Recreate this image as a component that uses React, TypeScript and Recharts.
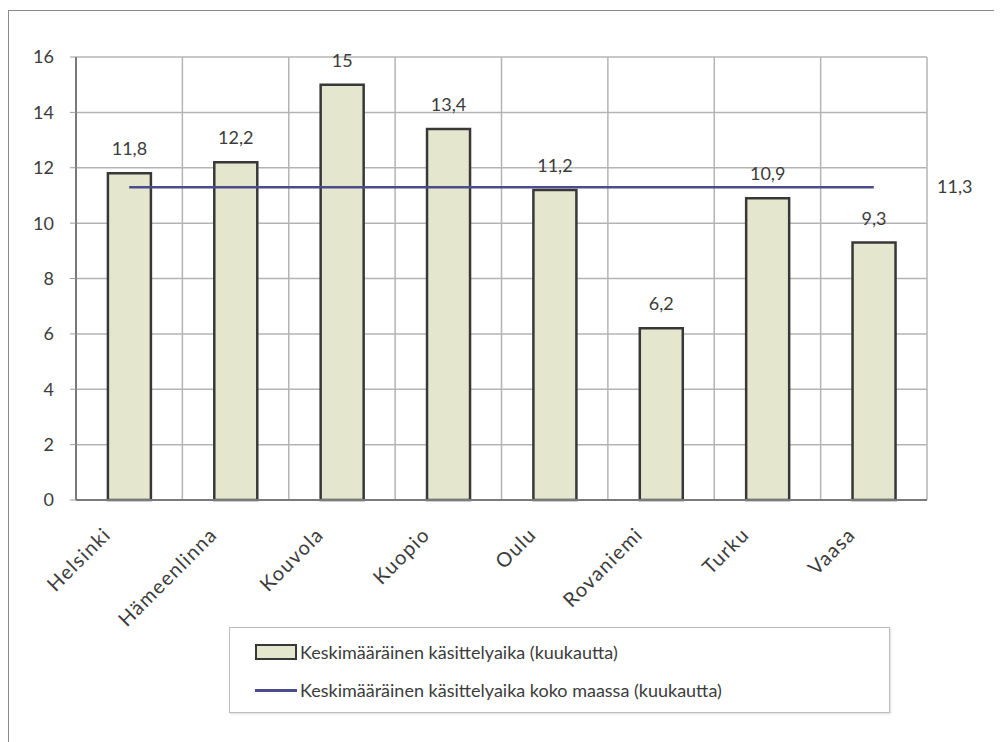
import {
  ComposedChart,
  Bar,
  Line,
  XAxis,
  YAxis,
  CartesianGrid,
  LabelList,
  Legend,
} from 'recharts'

const cities = ['Helsinki', 'Hämeenlinna', 'Kouvola', 'Kuopio', 'Oulu', 'Rovaniemi', 'Turku', 'Vaasa']
const avgTime = [11.8, 12.2, 15, 13.4, 11.2, 6.2, 10.9, 9.3]
const nationalAvg = [11.3, 11.3, 11.3, 11.3, 11.3, 11.3, 11.3, 11.3]
const yTicks = [0, 2, 4, 6, 8, 10, 12, 14, 16]

const barName = 'Keskimääräinen käsittelyaika (kuukautta)'
const lineName = 'Keskimääräinen käsittelyaika koko maassa (kuukautta)'

const data = cities.map((city, i) => ({
  city,
  avg: avgTime[i],
  national: nationalAvg[i],
}))

const FONT = 'Lato, "Open Sans", sans-serif'
const FS = 18
const TEXT = '#3c3c3c'
const BAR_FILL = '#e4e7cd'
const BAR_STROKE = '#383838'
const LINE = '#4b4b8d'

const fmt = (v: number) => String(v).replace('.', ',')

const CityTick = (props: any) => {
  const { x, y, payload } = props
  const tx = x - 17
  const ty = y + 28
  return (
    <text
      x={tx}
      y={ty}
      transform={`rotate(-45 ${tx} ${ty})`}
      textAnchor="end"
      fontSize={20}
      letterSpacing={1.3}
      fill={TEXT}
      fontFamily={FONT}
    >
      {payload.value}
    </text>
  )
}

const LineEndLabel = (props: any) => {
  const { x, y, index, value } = props
  if (index !== cities.length - 1) return null
  return (
    <text x={x + 81} y={y + 6} textAnchor="middle" fontSize={FS} fill={TEXT} fontFamily={FONT}>
      {fmt(value)}
    </text>
  )
}

const LegendBox = () => (
  <div
    style={{
      width: 661,
      height: 86,
      border: '1px solid #bdbdbd',
      boxShadow: '1px 1px 2px #ddd',
      background: '#fff',
      fontFamily: FONT,
      fontSize: FS,
      color: TEXT,
      boxSizing: 'border-box',
      paddingLeft: 25,
      paddingTop: 12,
    }}
  >
    <div style={{ display: 'flex', alignItems: 'center', height: 24 }}>
      <span
        style={{
          display: 'inline-block',
          width: 38,
          height: 12,
          background: BAR_FILL,
          border: `2px solid ${BAR_STROKE}`,
          marginRight: 3,
        }}
      />
      {barName}
    </div>
    <div style={{ display: 'flex', alignItems: 'center', height: 24, marginTop: 14 }}>
      <span
        style={{
          display: 'inline-block',
          width: 42,
          height: 3,
          background: LINE,
          marginRight: 3,
        }}
      />
      {lineName}
    </div>
  </div>
)

export default function App() {
  return (
    <div
      style={{
        position: 'relative',
        marginTop: 2,
        width: 993,
        height: 731,
        borderLeft: '1px solid #8a8a8a',
        borderTop: '1px solid #8a8a8a',
        background: '#fff',
      }}
    >
      <ComposedChart
        width={993}
        height={731}
        data={data}
        margin={{ top: 46, right: 75, bottom: 182, left: 7 }}
        barCategoryGap="30%"
      >
        <CartesianGrid
          stroke="#b4b4b4"
          strokeWidth={1.5}
          verticalCoordinatesGenerator={({ offset }: any) =>
            cities.map((_, i) => offset.left + (i * offset.width) / cities.length).concat(offset.left + offset.width)
          }
        />
        <XAxis
          dataKey="city"
          height={60}
          axisLine={{ stroke: '#7a7a7a', strokeWidth: 2 }}
          tickLine={false}
          interval={0}
          tick={<CityTick />}
        />
        <YAxis
          width={60}
          domain={[0, 16]}
          ticks={yTicks}
          axisLine={{ stroke: '#7a7a7a', strokeWidth: 2 }}
          tickLine={{ stroke: '#9a9a9a' }}
          tickSize={6}
          tickMargin={16}
          tick={{ fontSize: FS, fill: TEXT, fontFamily: FONT }}
          interval={0}
        />
        <Bar
          dataKey="avg"
          name={barName}
          fill={BAR_FILL}
          stroke={BAR_STROKE}
          strokeWidth={2.5}
          isAnimationActive={false}
        >
          <LabelList
            dataKey="avg"
            position="top"
            offset={18}
            formatter={(v: any) => fmt(v)}
            style={{ fontSize: FS, fill: TEXT, fontFamily: FONT }}
          />
        </Bar>
        <Line
          dataKey="national"
          name={lineName}
          stroke={LINE}
          strokeWidth={2.5}
          dot={false}
          activeDot={false}
          isAnimationActive={false}
        >
          <LabelList dataKey="national" content={<LineEndLabel />} />
        </Line>
        <Legend
          layout="vertical"
          align="center"
          verticalAlign="middle"
          content={<LegendBox />}
          wrapperStyle={{ left: 220, top: 616, width: 661, height: 86 }}
        />
      </ComposedChart>
    </div>
  )
}
